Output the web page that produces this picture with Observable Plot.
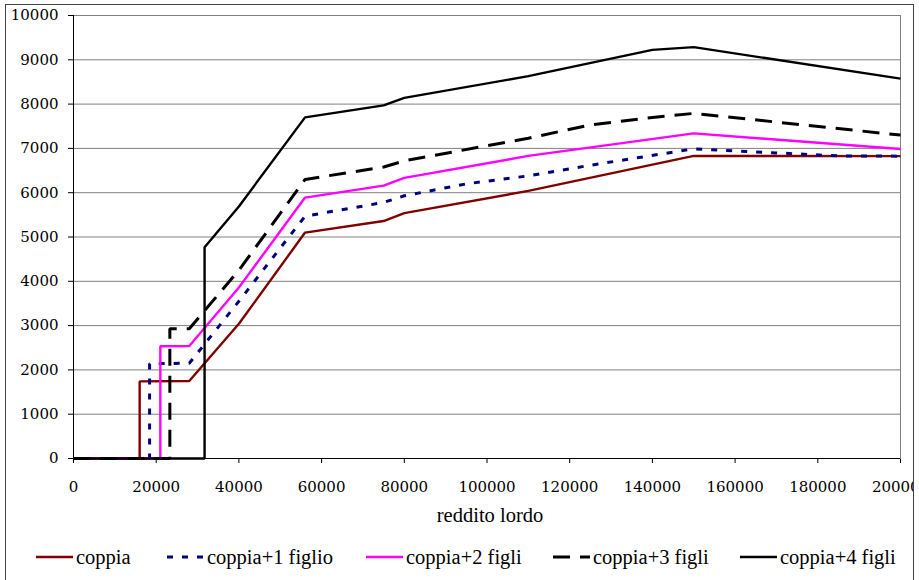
<!DOCTYPE html>
<html>
<head>
<meta charset="utf-8">
<script src="https://cdn.jsdelivr.net/npm/d3@7"></script>
<script src="https://cdn.jsdelivr.net/npm/@observablehq/plot@0.6"></script>
<style>
  html, body { margin: 0; padding: 0; background: #fff; overflow: hidden; }
  #frame { position: absolute; left: 5px; top: 4px; width: 907px; height: 640px;
           border: 1px solid #444; overflow: hidden; background: #fff; }
  #inner { position: absolute; left: -6px; top: -5px; width: 919px; height: 620px; }
  #chart { position: absolute; left: 0; top: 0; }
  #xtitle { position: absolute; left: 0; width: 980px; top: 503px; text-align: center;
            font: 20.5px "Liberation Serif", serif; color: #000; line-height: 24px; }
  #legend { position: absolute; left: 0; top: 545px; width: 919px; height: 24px;
            font: 20.5px "Liberation Serif", serif; color: #000; line-height: 24px; white-space: nowrap; }
  .item { position: absolute; top: 0; display: flex; align-items: center; }
  .item svg { display: block; margin-right: 3px; }
</style>
</head>
<body>
<div id="frame"><div id="inner">
  <div id="chart"></div>
  <div id="xtitle"></div>
  <div id="legend"></div>
</div></div>
<script>
// ---- data ----
const xTicks = [0, 20000, 40000, 60000, 80000, 100000, 120000, 140000, 160000, 180000, 200000];
const yTicks = [0, 1000, 2000, 3000, 4000, 5000, 6000, 7000, 8000, 9000, 10000];
const xLabel = "reddito lordo";
const seriesNames = ["coppia", "coppia+1 figlio", "coppia+2 figli", "coppia+3 figli", "coppia+4 figli"];

const xCoppia = [0, 16000, 16000, 28000, 40000, 56000, 75000, 80000, 110000, 150000, 200000];
const yCoppia = [0, 0, 1740, 1750, 3040, 5100, 5360, 5540, 6040, 6830, 6825];

const xFiglio1 = [0, 18400, 18400, 28000, 40000, 56000, 75000, 80000, 95000, 110000, 125000, 150000, 185000, 200000];
const yFiglio1 = [0, 0, 2140, 2150, 3550, 5470, 5780, 5930, 6200, 6380, 6620, 6990, 6830, 6825];

const xFigli2 = [0, 21000, 21000, 28000, 40000, 56000, 75000, 80000, 110000, 150000, 200000];
const yFigli2 = [0, 0, 2535, 2540, 3860, 5890, 6160, 6335, 6830, 7340, 6985];

const xFigli3 = [0, 23300, 23300, 28000, 40000, 56000, 75000, 80000, 110000, 125000, 140000, 150000, 200000];
const yFigli3 = [0, 0, 2930, 2930, 4250, 6300, 6580, 6720, 7230, 7530, 7700, 7790, 7300];

const xFigli4 = [0, 31700, 31700, 40000, 56000, 75000, 80000, 110000, 140000, 150000, 200000];
const yFigli4 = [0, 0, 4770, 5690, 7700, 7970, 8140, 8630, 9225, 9285, 8575];

// ---- styles / layout ----
const styles = [
  {stroke: "#800000", width: 2.4, dash: null},
  {stroke: "#000080", width: 3,   dash: "6,9"},
  {stroke: "#FF00FF", width: 2.4, dash: null},
  {stroke: "#000000", width: 3,   dash: "17,10"},
  {stroke: "#000000", width: 2.4, dash: null}
];
const legendLeft = [36, 167, 366, 553, 740];

const xs = [xCoppia, xFiglio1, xFigli2, xFigli3, xFigli4];
const ys = [yCoppia, yFiglio1, yFigli2, yFigli3, yFigli4];
const tables = xs.map((xv, k) => xv.map((x, i) => ({series: seriesNames[k], x, y: ys[k][i]})));

const chart = Plot.plot({
  width: 919,
  height: 518,
  marginLeft: 73,
  marginRight: 19,
  marginTop: 15,
  marginBottom: 60,
  style: {fontFamily: "'DejaVu Serif', serif", fontSize: "15px", color: "#000", background: "transparent", overflow: "visible"},
  x: {domain: [0, 200000], ticks: xTicks, tickFormat: d => String(d), label: null, tickSize: 5, tickPadding: 18},
  y: {domain: [0, 10000], ticks: yTicks, tickFormat: d => String(d), label: null, tickSize: 5, tickPadding: 10},
  marks: [
    Plot.ruleY(yTicks, {y: d => d, stroke: "#808080", strokeWidth: 1}),
    Plot.frame({stroke: "#808080"}),
    Plot.ruleX([0], {x: d => d, stroke: "#000"}),
    Plot.ruleY([0], {y: d => d, stroke: "#000"}),
    ...tables.map((t, k) => Plot.line(t, {
      x: "x", y: "y",
      stroke: styles[k].stroke,
      strokeWidth: styles[k].width,
      strokeDasharray: styles[k].dash,
      strokeLinejoin: "miter",
      strokeLinecap: "butt"
    }))
  ]
});
document.getElementById("chart").appendChild(chart);

document.getElementById("xtitle").textContent = xLabel;

const legend = document.getElementById("legend");
seriesNames.forEach((name, k) => {
  const item = document.createElement("div");
  item.className = "item";
  item.style.left = legendLeft[k] + "px";
  const ns = "http://www.w3.org/2000/svg";
  const svg = document.createElementNS(ns, "svg");
  svg.setAttribute("width", 37);
  svg.setAttribute("height", 10);
  const ln = document.createElementNS(ns, "line");
  ln.setAttribute("x1", 0); ln.setAttribute("x2", 37);
  ln.setAttribute("y1", 5); ln.setAttribute("y2", 5);
  ln.setAttribute("stroke", styles[k].stroke);
  ln.setAttribute("stroke-width", styles[k].width);
  if (styles[k].dash) ln.setAttribute("stroke-dasharray", styles[k].dash);
  svg.appendChild(ln);
  const span = document.createElement("span");
  span.textContent = name;
  item.appendChild(svg);
  item.appendChild(span);
  legend.appendChild(item);
});
</script>
</body>
</html>
